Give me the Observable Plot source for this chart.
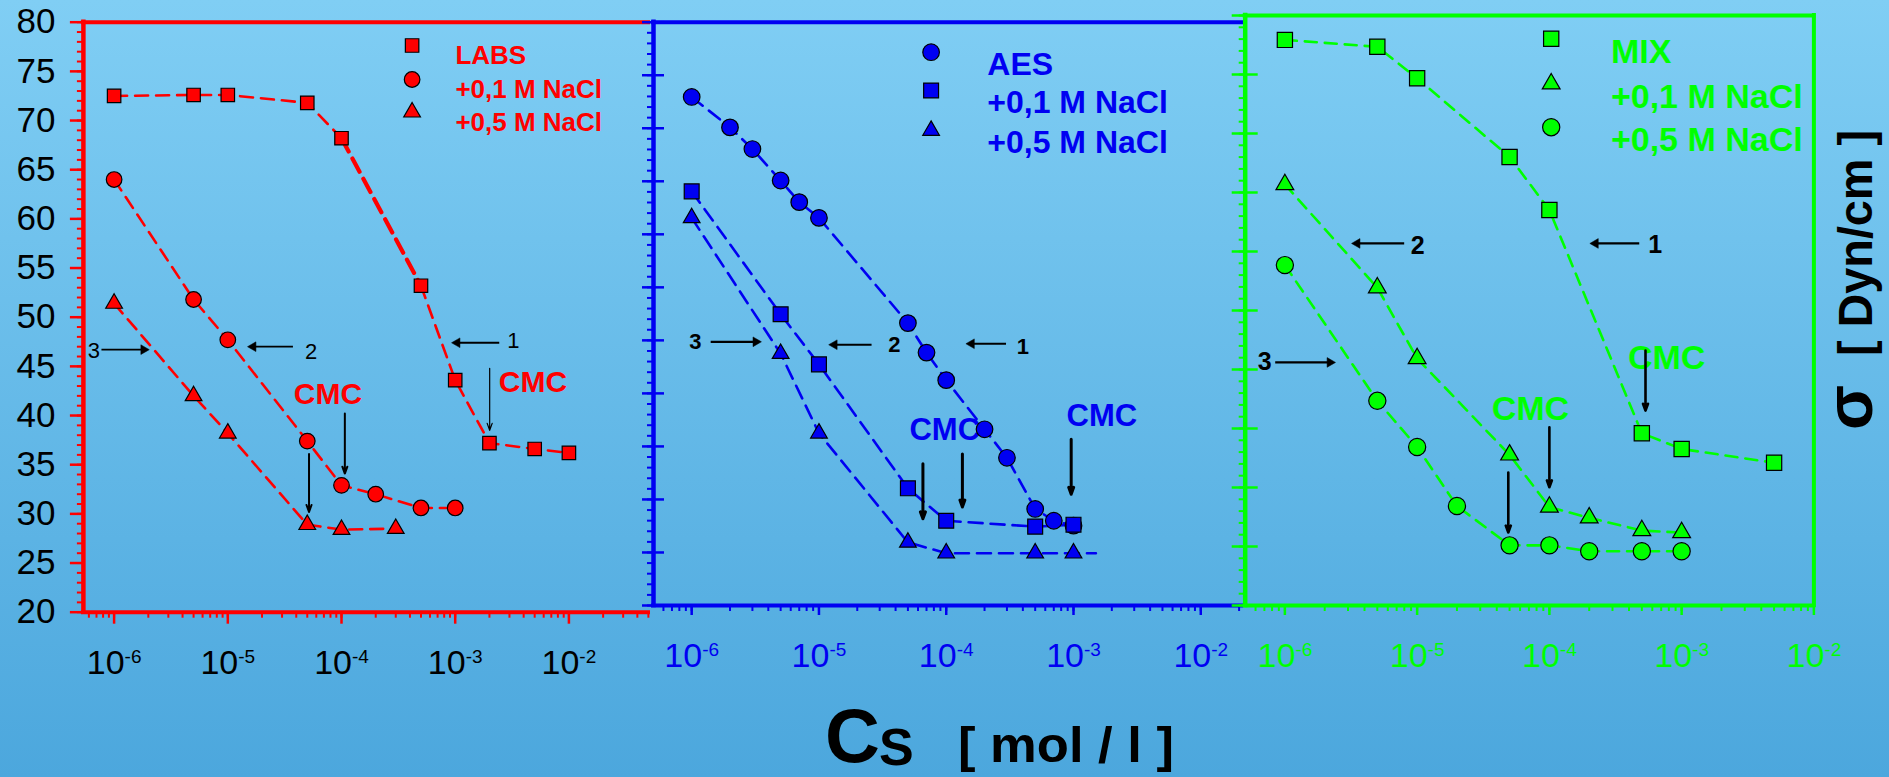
<!DOCTYPE html>
<html>
<head>
<meta charset="utf-8">
<script src="https://cdn.jsdelivr.net/npm/d3@7"></script>
<script src="https://cdn.jsdelivr.net/npm/@observablehq/plot@0.6"></script>
<style>
  html, body { margin: 0; padding: 0; }
  #root {
    position: relative; width: 1889px; height: 777px; overflow: hidden;
    background: linear-gradient(to bottom, #80cef4 0%, #4ca7dd 100%);
    font-family: 'Liberation Sans', Arial, Helvetica, sans-serif;
  }
  #root svg { position: absolute; top: 0; }
</style>
</head>
<body>
<div id="root"></div>
<script>
// ---------------- DATA (σ in Dyn/cm read on the shared left axis, Cs in mol/l) ----------------
const decadeTicks = [1e-6, 1e-5, 1e-4, 1e-3, 1e-2];
const sigmaTicks = [20, 25, 30, 35, 40, 45, 50, 55, 60, 65, 70, 75, 80];

// Panel 1 (red): LABS
const labsLegend = ["LABS", "+0,1 M NaCl", "+0,5 M NaCl"];
const labsConc = [1e-6, 5e-6, 1e-5, 5e-5, 1e-4, 5e-4, 1e-3, 2e-3, 5e-3, 1e-2];
const labsSigma = [72.5, 72.6, 72.6, 71.8, 68.2, 53.2, 43.6, 37.2, 36.6, 36.2];
const labsNaCl01Conc = [1e-6, 5e-6, 1e-5, 5e-5, 1e-4, 2e-4, 5e-4, 1e-3];
const labsNaCl01Sigma = [64.0, 51.8, 47.7, 37.4, 32.9, 32.0, 30.6, 30.6];
const labsNaCl05Conc = [1e-6, 5e-6, 1e-5, 5e-5, 1e-4, 3e-4];
const labsNaCl05Sigma = [51.4, 42.0, 38.2, 28.9, 28.4, 28.5];

// Panel 2 (blue): AES
const aesLegend = ["AES", "+0,1 M NaCl", "+0,5 M NaCl"];
const aesConc = [1e-6, 2e-6, 3e-6, 5e-6, 7e-6, 1e-5, 5e-5, 7e-5, 1e-4, 2e-4, 3e-4, 5e-4, 7e-4, 1e-3];
const aesSigma = [72.4, 69.3, 67.1, 63.9, 61.7, 60.1, 49.4, 46.4, 43.6, 38.6, 35.7, 30.5, 29.3, 28.8];
const aesNaCl01Conc = [1e-6, 5e-6, 1e-5, 5e-5, 1e-4, 5e-4, 1e-3];
const aesNaCl01Sigma = [62.8, 50.3, 45.2, 32.6, 29.3, 28.7, 28.9];
const aesNaCl05Conc = [1e-6, 5e-6, 1e-5, 5e-5, 1e-4, 5e-4, 1e-3, 1.5e-3];
const aesNaCl05Sigma = [60.1, 46.3, 38.2, 27.1, 26.0, 26.0, 26.0, 26.0];
const aesNaCl05Measured = 7; // the last line vertex is the dashed tail, not a measured point

// Panel 3 (green): MIX
const mixLegend = ["MIX", "+0,1 M NaCl", "+0,5 M NaCl"];
const mixConc = [1e-6, 5e-6, 1e-5, 5e-5, 1e-4, 5e-4, 1e-3, 5e-3];
const mixSigma = [78.2, 77.5, 74.3, 66.3, 60.9, 38.2, 36.6, 35.2];
const mixNaCl01Conc = [1e-6, 5e-6, 1e-5, 5e-5, 1e-4, 2e-4, 5e-4, 1e-3];
const mixNaCl01Sigma = [63.5, 53.0, 45.8, 36.0, 30.7, 29.6, 28.3, 28.1];
const mixNaCl05Conc = [1e-6, 5e-6, 1e-5, 2e-5, 5e-5, 1e-4, 2e-4, 5e-4, 1e-3];
const mixNaCl05Sigma = [55.3, 41.5, 36.8, 30.8, 26.8, 26.8, 26.2, 26.2, 26.2];

// Annotations (Cs, σ)
const labsCurveNumbers = [{t: "3", x: 6.64e-7, y: 46.6}, {t: "2", x: 5.41e-5, y: 46.5}, {t: "1", x: 3.24e-3, y: 47.6}];
const labsCurveArrows = [{x1: 7.74e-7, x2: 1.82e-6, y: 46.7}, {x1: 3.74e-5, x2: 1.67e-5, y: 47.0}, {x1: 2.44e-3, x2: 1.04e-3, y: 47.4}];
const labsCmcLabels = [{t: "CMC", x: 7.6e-5, y: 42.2}, {t: "CMC", x: 4.83e-3, y: 43.4}];
const labsCmcArrows = [{x: 1.07e-4, y1: 40.2, y2: 34.1, w: 2}, {x: 5.18e-5, y1: 36.1, y2: 30.2, w: 2}, {x: 2.01e-3, y1: 44.8, y2: 38.5, w: 1.2}];

const aesCurveNumbers = [{t: "3", x: 1.07e-6, y: 47.5}, {t: "2", x: 3.92e-5, y: 47.2}, {t: "1", x: 4.01e-4, y: 47.0}];
const aesCurveArrows = [{x1: 1.41e-6, x2: 3.19e-6, y: 47.5}, {x1: 2.59e-5, x2: 1.32e-5, y: 47.2}, {x1: 2.95e-4, x2: 1.58e-4, y: 47.3}];
const aesCmcLabels = [{t: "CMC", x: 9.73e-5, y: 38.5}, {t: "CMC", x: 1.67e-3, y: 39.9}];
const aesCmcArrows = [{x: 6.56e-5, y1: 35.1, y2: 29.5, w: 3}, {x: 1.34e-4, y1: 36.1, y2: 30.7, w: 3}, {x: 9.59e-4, y1: 37.6, y2: 32.0, w: 3}];

const mixCurveNumbers = [{t: "2", x: 1.01e-5, y: 57.2}, {t: "1", x: 6.31e-4, y: 57.3}, {t: "3", x: 7.03e-7, y: 45.4}];
const mixCurveArrows = [{x1: 7.98e-6, x2: 3.52e-6, y: 57.5}, {x1: 4.78e-4, x2: 2.23e-4, y: 57.5}, {x1: 8.45e-7, x2: 2.19e-6, y: 45.4}];
const mixCmcLabels = [{t: "CMC", x: 7.71e-4, y: 45.8}, {t: "CMC", x: 7.19e-5, y: 40.7}];
const mixCmcArrows = [{x: 5.33e-4, y1: 46.6, y2: 40.5, w: 2.6}, {x: 1e-4, y1: 38.8, y2: 32.7, w: 2.6}, {x: 4.89e-5, y1: 34.2, y2: 28.1, w: 2.6}];

// ---------------- LAYOUT ----------------
const FONT = "'Liberation Sans', Arial, Helvetica, sans-serif";
const RED = "#ff0000", BLUE = "#0000f2", GREEN = "#00ff00";
const SVG_H = 700;
const RED_TOP = 21.7, RED_BOTTOM = 611.7; // pixel rows of σ = 80 and σ = 20
const pxToSigma = px => 80 - (px - RED_TOP) * 60 / (RED_BOTTOM - RED_TOP);
const even = (lo, hi, n) => d3.range(n + 1).map(i => lo + (hi - lo) * i / n);
const rows = (conc, sigma) => conc.map((c, i) => ({c, s: sigma[i]}));

function makePanel(p) {
  const [yLo, yHi] = p.yDomain;
  const marks = [];
  // y ticks
  marks.push(Plot.axisY({ticks: p.yMinor, tickSize: 6, fill: "none", stroke: p.color, strokeWidth: 2, label: null, tickFormat: () => ""}));
  marks.push(Plot.axisY({ticks: p.yMajor, tickSize: p.yMajorSize, dx: p.yMajorDx, tickPadding: 15,
    fill: p.yLabels ? "black" : "none", stroke: p.color, strokeWidth: 2.5, fontSize: 35, label: null,
    tickFormat: p.yLabels ? (d => String(d)) : (() => "")}));
  // x ticks
  const xMinor = d3.scaleLog().domain(p.xDomain).ticks();
  marks.push(Plot.axisX({ticks: xMinor, tickSize: 6, fill: "none", stroke: p.color, strokeWidth: 2, label: null, tickFormat: () => ""}));
  marks.push(Plot.axisX({ticks: decadeTicks.filter(d => d >= p.xDomain[0] * 0.999 && d <= p.xDomain[1] * 1.001),
    tickSize: p.xMajorSize, tickPadding: p.xLabelOffset - p.xMajorSize, fill: p.xLabelColor, stroke: p.color,
    strokeWidth: 2.5, fontSize: 34, label: null, tickFormat: d => "10^" + Math.round(Math.log10(d))}));
  // frame
  marks.push(Plot.ruleY([yHi], {stroke: p.color, strokeWidth: 4, strokeLinecap: "square"}));
  marks.push(Plot.ruleY([yLo], {stroke: p.color, strokeWidth: 4, strokeLinecap: "square"}));
  marks.push(Plot.ruleX([p.xDomain[0]], {stroke: p.color, strokeWidth: 4.5, strokeLinecap: "square"}));
  if (p.rightFrame) marks.push(Plot.ruleX([p.xDomain[1]], {stroke: p.color, strokeWidth: 4, strokeLinecap: "square"}));
  // series lines (one segment of a curve may be drawn heavier, as in the source)
  p.series.forEach(s => {
    const pieces = s.boldSegment
      ? [[0, s.boldSegment[0], 2.6, p.dash], [s.boldSegment[0], s.boldSegment[1], 4.2, "15,8"], [s.boldSegment[1], s.data.length - 1, 2.6, p.dash]]
      : [[0, s.data.length - 1, 2.6, p.dash]];
    pieces.forEach(([a, b, w, dash]) => {
      marks.push(Plot.line(s.data.slice(a, b + 1), {x: "c", y: "s", stroke: p.color, strokeWidth: w, strokeDasharray: dash}));
    });
  });
  // annotations
  marks.push(Plot.link(p.curveArrows, {x1: "x1", x2: "x2", y1: "y", y2: "y", stroke: "black", strokeWidth: p.arrowWidth}));
  marks.push(Plot.dot(p.curveArrows, {x: "x2", y: "y", symbol: "triangle", r: 3.6, fill: "black", stroke: "black", strokeWidth: 0.5,
    rotate: d => (d.x2 > d.x1 ? 90 : -90)}));
  marks.push(Plot.text(p.curveNumbers, {x: "x", y: "y", text: "t", fill: "black", fontSize: p.numberSize, fontWeight: p.numberWeight}));
  marks.push(Plot.text(p.cmcLabels, {x: "x", y: "y", text: "t", fill: p.color, fontSize: p.cmcSize, fontWeight: "bold"}));
  marks.push(Plot.arrow(p.cmcArrows, {x1: "x", x2: "x", y1: "y1", y2: "y2", stroke: "black", strokeWidth: d => d.w, headLength: 11, headAngle: 40}));
  // series markers
  p.series.forEach((s, i) => {
    const pts = s.measured === undefined ? s.data : s.data.slice(0, s.measured);
    marks.push(Plot.dot(pts, {x: "c", y: "s", symbol: p.symbols[i], r: p.r[i], fill: p.color, stroke: "black", strokeWidth: 1.2}));
  });
  // legend
  p.legend.forEach((label, i) => {
    marks.push(Plot.dot([label], {x: null, y: null, frameAnchor: "top-left", dx: p.legendSymX, dy: p.legendRows[i],
      symbol: p.symbols[i], r: p.r[i], fill: p.color, stroke: "black", strokeWidth: 1.2}));
    marks.push(Plot.text([label], {x: null, y: null, frameAnchor: "top-left", dx: p.legendTextX, dy: p.legendRows[i],
      text: d => d, textAnchor: "start", fill: p.color, fontSize: p.legendSize, fontWeight: "bold"}));
  });

  const svg = Plot.plot({
    width: p.width, height: SVG_H,
    marginLeft: p.ml, marginRight: p.mr, marginTop: p.mt, marginBottom: SVG_H - p.bottom,
    x: {type: "log", domain: p.xDomain},
    y: {domain: p.yDomain},
    style: {background: "transparent", fontFamily: FONT, overflow: "visible"},
    marks
  });
  svg.style.left = p.left + "px";
  svg.style.top = "0px";
  // superscript exponents on the decade labels
  d3.select(svg).selectAll('[aria-label="x-axis tick label"] text').each(function () {
    const t = d3.select(this);
    const parts = t.text().split("^");
    if (parts.length < 2) return;
    t.text(parts[0]);
    t.append("tspan").attr("dy", -11).attr("font-size", 19).text(parts[1]);
  });
  return svg;
}

const root = document.getElementById("root");

// Red panel
root.appendChild(makePanel({
  left: 0, width: 660, ml: 82.9, mr: 12, mt: RED_TOP, bottom: RED_BOTTOM,
  xDomain: [10 ** -6.27, 10 ** -1.30], yDomain: [20, 80],
  color: RED, yLabels: true, yMajor: sigmaTicks, yMinor: d3.range(20, 81, 1), yMajorSize: 13, yMajorDx: 0,
  xMajorSize: 12, xLabelOffset: 38, xLabelColor: "black", dash: "13,8",
  series: [{data: rows(labsConc, labsSigma), boldSegment: [4, 5]}, {data: rows(labsNaCl01Conc, labsNaCl01Sigma)}, {data: rows(labsNaCl05Conc, labsNaCl05Sigma)}],
  symbols: ["square", "circle", "triangle"], r: [7.6, 7.8, 6.2],
  legend: labsLegend, legendSymX: 328.7, legendTextX: 372, legendRows: [23.3, 57.3, 90], legendSize: 26,
  curveNumbers: labsCurveNumbers, curveArrows: labsCurveArrows, numberSize: 22, numberWeight: "normal", arrowWidth: 1.8,
  cmcLabels: labsCmcLabels, cmcArrows: labsCmcArrows, cmcSize: 30
}));

// Blue panel
{
  const lo = pxToSigma(605), hi = pxToSigma(RED_TOP);
  root.appendChild(makePanel({
    left: 640, width: 620, ml: 13, mr: 19, mt: RED_TOP, bottom: 605,
    xDomain: [10 ** -6.30, 10 ** -1.68], yDomain: [lo, hi],
    color: BLUE, yLabels: false, yMajor: even(lo, hi, 11), yMinor: even(lo, hi, 55), yMajorSize: 22, yMajorDx: 11,
    xMajorSize: 10, xLabelOffset: 37, xLabelColor: BLUE, dash: "14,8",
    series: [{data: rows(aesConc, aesSigma)}, {data: rows(aesNaCl01Conc, aesNaCl01Sigma)},
             {data: rows(aesNaCl05Conc, aesNaCl05Sigma), measured: aesNaCl05Measured}],
    symbols: ["circle", "square", "triangle"], r: [8.3, 8.4, 6.2],
    legend: aesLegend, legendSymX: 277.6, legendTextX: 333.8, legendRows: [30, 68.3, 108.3], legendSize: 32,
    curveNumbers: aesCurveNumbers, curveArrows: aesCurveArrows, numberSize: 22, numberWeight: "bold", arrowWidth: 2.2,
    cmcLabels: aesCmcLabels, cmcArrows: aesCmcArrows, cmcSize: 31
  }));
}

// Green panel
{
  const lo = pxToSigma(605), hi = pxToSigma(15);
  root.appendChild(makePanel({
    left: 1230, width: 640, ml: 14.7, mr: 56.6, mt: 15, bottom: 605,
    xDomain: [10 ** -6.30, 10 ** -2], yDomain: [lo, hi], rightFrame: true,
    color: GREEN, yLabels: false, yMajor: even(lo, hi, 10), yMinor: even(lo, hi, 50), yMajorSize: 26, yMajorDx: 13,
    xMajorSize: 10, xLabelOffset: 37, xLabelColor: GREEN, dash: "12,8",
    series: [{data: rows(mixConc, mixSigma)}, {data: rows(mixNaCl01Conc, mixNaCl01Sigma)}, {data: rows(mixNaCl05Conc, mixNaCl05Sigma)}],
    symbols: ["square", "triangle", "circle"], r: [8.6, 6.6, 8.6],
    legend: mixLegend, legendSymX: 306, legendTextX: 365.7, legendRows: [23.3, 68.3, 111.7], legendSize: 34,
    curveNumbers: mixCurveNumbers, curveArrows: mixCurveArrows, numberSize: 25, numberWeight: "bold", arrowWidth: 2.2,
    cmcLabels: mixCmcLabels, cmcArrows: mixCmcArrows, cmcSize: 34
  }));
}

// Axis titles
const ov = d3.select(root).append("svg").attr("width", 1889).attr("height", 777)
  .style("left", "0px").style("top", "0px").style("pointer-events", "none")
  .attr("font-family", FONT).attr("font-weight", "bold").attr("fill", "black");
ov.append("text").attr("transform", "translate(1872,430) rotate(-90)").attr("font-size", 66).text("σ");
ov.append("text").attr("transform", "translate(1871.5,356) rotate(-90)").attr("font-size", 48)
  .attr("textLength", 226).attr("lengthAdjust", "spacingAndGlyphs").text("[ Dyn/cm ]");
ov.append("text").attr("x", 825).attr("y", 762).attr("font-size", 76).text("C");
ov.append("text").attr("x", 879).attr("y", 765).attr("font-size", 52).text("S");
ov.append("text").attr("x", 958).attr("y", 762).attr("font-size", 50)
  .attr("textLength", 216).attr("lengthAdjust", "spacingAndGlyphs").text("[ mol / l ]");
</script>
</body>
</html>
